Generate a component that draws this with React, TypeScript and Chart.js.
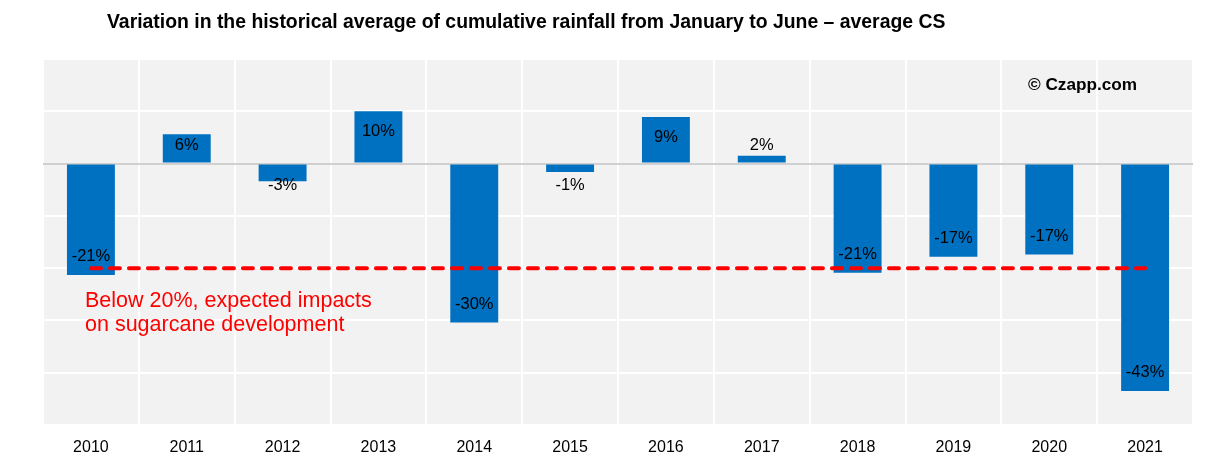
import React, { useEffect, useRef } from "react";
import { Chart, registerables } from "chart.js";

Chart.register(...registerables);

const years = ["2010", "2011", "2012", "2013", "2014", "2015", "2016", "2017", "2018", "2019", "2020", "2021"];
const variation = [-21.3, 5.6, -3.4, 10.0, -30.4, -1.6, 8.9, 1.5, -20.9, -17.8, -17.4, -43.5];
const valueLabels = ["-21%", "6%", "-3%", "10%", "-30%", "-1%", "9%", "2%", "-21%", "-17%", "-17%", "-43%"];
const threshold = [-20, -20, -20, -20, -20, -20, -20, -20, -20, -20, -20, -20];

const titleText = "Variation in the historical average of cumulative rainfall from January to June – average CS";
const noteLines = ["Below 20%, expected impacts", "on sugarcane development"];
const sourceText = "© Czapp.com";

const FONT = "'Liberation Sans', Arial, sans-serif";

const decorPlugin = {
  id: "decor",
  beforeDraw(chart: any) {
    const { ctx, chartArea } = chart;
    ctx.save();
    ctx.fillStyle = "#f2f2f2";
    ctx.fillRect(chartArea.left, chartArea.top, chartArea.right - chartArea.left, chartArea.bottom - chartArea.top);
    ctx.restore();
  },
  afterDatasetsDraw(chart: any) {
    const { ctx } = chart;
    const meta = chart.getDatasetMeta(0);
    const yScale = chart.scales.y;
    const zero = yScale.getPixelForValue(0);
    ctx.save();
    ctx.font = `16.5px ${FONT}`;
    ctx.fillStyle = "#000";
    ctx.textAlign = "center";
    ctx.textBaseline = "middle";
    meta.data.forEach((bar: any, i: number) => {
      const v = variation[i];
      const h = Math.abs(bar.y - zero);
      let y: number;
      if (v >= 0) {
        y = h >= 40 ? bar.y + 20.5 : zero - 18;
      } else {
        y = h >= 40 ? bar.y - 18.5 : zero + 22;
      }
      ctx.fillText(valueLabels[i], bar.x, y);
    });
    ctx.restore();
  },
  afterDraw(chart: any) {
    const { ctx } = chart;
    ctx.save();
    ctx.fillStyle = "#000";
    ctx.textBaseline = "middle";
    ctx.textAlign = "left";
    ctx.font = `bold 19.4px ${FONT}`;
    ctx.fillText(titleText, 107, 23);
    ctx.font = `bold 17.2px ${FONT}`;
    ctx.fillText(sourceText, 1028, 85);
    ctx.fillStyle = "#ff0000";
    ctx.font = `21.5px ${FONT}`;
    ctx.fillText(noteLines[0], 85, 301);
    ctx.fillText(noteLines[1], 85, 325);
    ctx.restore();
  },
};

export default function App() {
  const ref = useRef<HTMLCanvasElement>(null);
  useEffect(() => {
    if (!ref.current) return;
    const chart = new Chart(ref.current, {
      type: "bar",
      data: {
        labels: years,
        datasets: [
          {
            type: "bar",
            data: variation,
            backgroundColor: "#0070c0",
            barPercentage: 0.5,
            categoryPercentage: 1.0,
            order: 1,
          } as any,
          {
            type: "line",
            data: threshold,
            borderColor: "#ff0000",
            borderWidth: 4,
            borderDash: [10, 9],
            borderCapStyle: "round",
            pointRadius: 0,
            fill: false,
            order: 0,
          } as any,
        ],
      },
      options: {
        animation: false,
        responsive: true,
        maintainAspectRatio: false,
        layout: { padding: { left: 43, right: 27, top: 59, bottom: 0 } },
        plugins: { legend: { display: false }, tooltip: { enabled: false }, title: { display: false } },
        scales: {
          x: {
            offset: true,
            grid: { offset: true, color: "#ffffff", lineWidth: 2, drawTicks: false },
            border: { display: false },
            ticks: { color: "#000", font: { family: FONT, size: 16 }, padding: 13 },
            afterFit: (s: any) => {
              s.height = 40;
            },
          },
          y: {
            min: -50,
            max: 20,
            ticks: { display: false, stepSize: 10 },
            grid: {
              drawTicks: false,
              lineWidth: 2,
              color: (c: any) => (c.tick && c.tick.value === 0 ? "#d0d0d0" : "#ffffff"),
            },
            border: { display: false },
            afterFit: (s: any) => {
              s.width = 0;
            },
          },
        },
      },
      plugins: [decorPlugin],
    });
    return () => chart.destroy();
  }, []);
  return (
    <div style={{ position: "fixed", left: 0, top: 0, width: 1220, height: 465, background: "#fff" }}>
      <canvas ref={ref} />
    </div>
  );
}
